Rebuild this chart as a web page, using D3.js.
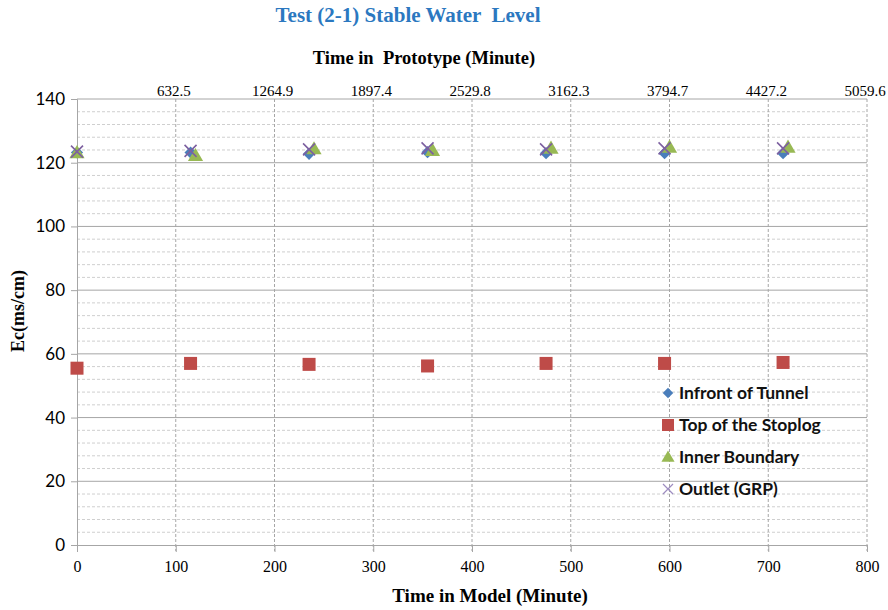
<!DOCTYPE html>
<html><head><meta charset="utf-8">
<script src="https://cdn.jsdelivr.net/npm/d3@7"></script>
<style>body{margin:0;background:#fff}</style>
</head><body>
<svg id="chart" width="888" height="610"></svg>
<script>
// ---- data ----
const seriesNames = ["Infront of Tunnel", "Top of the Stoplog", "Inner Boundary", "Outlet (GRP)"];
const timeModel = [0, 115, 235, 355, 475, 595, 715];
const timeModelInner = [0, 120, 240, 360, 480, 600, 720];
const infrontTunnel = [123.2, 123.2, 122.8, 123.3, 123.0, 123.0, 123.0];
const topStoplog = [55.5, 57.0, 56.7, 56.2, 57.0, 57.0, 57.3];
const innerBoundary = [122.8, 121.9, 124.0, 123.5, 124.2, 124.5, 124.5];
const outletGRP = [123.5, 123.7, 124.2, 124.5, 124.2, 124.5, 124.5];
const xTicks = [0, 100, 200, 300, 400, 500, 600, 700, 800];
const yTicks = [0, 20, 40, 60, 80, 100, 120, 140];
const topTickLabels = ["632.5", "1264.9", "1897.4", "2529.8", "3162.3", "3794.7", "4427.2", "5059.6"];

const svg = d3.select("#chart");
const L = 77, R = 867, T = 99, B = 545;
const x = d3.scaleLinear().domain([0, 800]).range([L, R]);
const y = d3.scaleLinear().domain([0, 140]).range([B, T]);

const serif = "'Liberation Serif','Times New Roman',serif";
const sans = "Lato,'Liberation Sans',sans-serif";

// minor horizontal grid
const minor = d3.range(0, 141, 4).filter(v => v % 20 !== 0);
svg.append("g").selectAll("line").data(minor).join("line")
  .attr("x1", L).attr("x2", R).attr("y1", d => y(d)).attr("y2", d => y(d))
  .attr("stroke", "#cfcfcf").attr("stroke-width", 1).attr("stroke-dasharray", "3,2");
// major horizontal grid
svg.append("g").selectAll("line").data(yTicks.filter(v => v > 0)).join("line")
  .attr("x1", L).attr("x2", R).attr("y1", d => y(d)).attr("y2", d => y(d))
  .attr("stroke", "#a6a6a6").attr("stroke-width", 1);
// vertical dashed grid
svg.append("g").selectAll("line").data(xTicks.filter(v => v > 0)).join("line")
  .attr("x1", d => x(d)).attr("x2", d => x(d)).attr("y1", T).attr("y2", B + 6)
  .attr("stroke", "#a6a6a6").attr("stroke-width", 1).attr("stroke-dasharray", "3,2");

// axes
const yAxis = d3.axisLeft(y).tickValues(yTicks).tickSize(6).tickPadding(6);
const gy = svg.append("g").attr("transform", `translate(${L},0)`).call(yAxis);
gy.select(".domain").attr("stroke", "#a6a6a6");
gy.selectAll(".tick line").attr("stroke", "#a6a6a6");
gy.selectAll("text").attr("font-family", sans).attr("font-size", 17).attr("fill", "#000");

const xAxis = d3.axisBottom(x).tickValues(xTicks).tickSize(7).tickPadding(9);
const gx = svg.append("g").attr("transform", `translate(0,${B})`).call(xAxis);
gx.select(".domain").attr("stroke", "#a6a6a6");
gx.selectAll(".tick line").attr("stroke", "#a6a6a6");
gx.selectAll("text").attr("font-family", serif).attr("font-size", 16).attr("fill", "#000");

// top labels (prototype time)
svg.append("g").selectAll("text").data(topTickLabels).join("text")
  .attr("x", (d, i) => x(xTicks[i + 1]) - 2).attr("y", 96)
  .attr("text-anchor", "middle").attr("font-family", serif).attr("font-size", 15)
  .text(d => d);

// markers
const pts = (xs, ys) => xs.map((v, i) => ({x: v, y: ys[i]}));
svg.append("g").selectAll("path").data(pts(timeModel, infrontTunnel)).join("path")
  .attr("d", d3.symbol(d3.symbolDiamond2, 95))
  .attr("transform", d => `translate(${x(d.x)},${y(d.y)})`).attr("fill", "#4a7ebb");
svg.append("g").selectAll("rect").data(pts(timeModel, topStoplog)).join("rect")
  .attr("x", d => x(d.x) - 6.5).attr("y", d => y(d.y) - 6.5).attr("width", 13).attr("height", 13)
  .attr("fill", "#be4b48");
svg.append("g").selectAll("path").data(pts(timeModelInner, innerBoundary)).join("path")
  .attr("d", d3.symbol(d3.symbolTriangle, 100))
  .attr("transform", d => `translate(${x(d.x)},${y(d.y)})`).attr("fill", "#98b954");
svg.append("g").selectAll("path").data(pts(timeModel, outletGRP)).join("path")
  .attr("d", "M-6,-6L6,6M-6,6L6,-6")
  .attr("transform", d => `translate(${x(d.x)},${y(d.y)})`).attr("stroke", "#7d60a0").attr("stroke-width", 1.6).attr("fill", "none");

// legend
const legY = [393, 425, 457, 489];
const lg = svg.append("g");
lg.append("path").attr("d", d3.symbol(d3.symbolDiamond2, 70)).attr("transform", `translate(668,${legY[0]})`).attr("fill", "#4a7ebb");
lg.append("rect").attr("x", 662).attr("y", legY[1] - 6).attr("width", 12).attr("height", 12).attr("fill", "#be4b48");
lg.append("path").attr("d", d3.symbol(d3.symbolTriangle, 75)).attr("transform", `translate(668,${legY[2] + 1})`).attr("fill", "#98b954");
lg.append("path").attr("d", "M-5,-5L5,5M-5,5L5,-5").attr("transform", `translate(668,${legY[3]})`).attr("stroke", "#9d8cc0").attr("stroke-width", 1.2);
lg.selectAll("text").data(seriesNames).join("text")
  .attr("x", 679).attr("y", (d, i) => legY[i] + 6)
  .attr("font-family", sans).attr("font-weight", 700).attr("font-size", 17.5).attr("fill", "#111")
  .text(d => d);

// titles
svg.append("text").attr("x", 408).attr("y", 22).attr("text-anchor", "middle")
  .attr("font-family", serif).attr("font-weight", 700).attr("font-size", 21).attr("fill", "#2b78c0")
  .attr("xml:space", "preserve").text("Test (2-1) Stable Water  Level");
svg.append("text").attr("x", 424).attr("y", 64).attr("text-anchor", "middle")
  .attr("font-family", serif).attr("font-weight", 700).attr("font-size", 18.5).attr("fill", "#000")
  .attr("xml:space", "preserve").text("Time in  Prototype (Minute)");
svg.append("text").attr("x", 490).attr("y", 602).attr("text-anchor", "middle")
  .attr("font-family", serif).attr("font-weight", 700).attr("font-size", 19).attr("fill", "#000")
  .text("Time in Model (Minute)");
svg.append("text").attr("transform", "translate(24,311) rotate(-90)").attr("text-anchor", "middle")
  .attr("font-family", serif).attr("font-weight", 700).attr("font-size", 18).attr("fill", "#000")
  .text("Ec(ms/cm)");
</script>
</body></html>
